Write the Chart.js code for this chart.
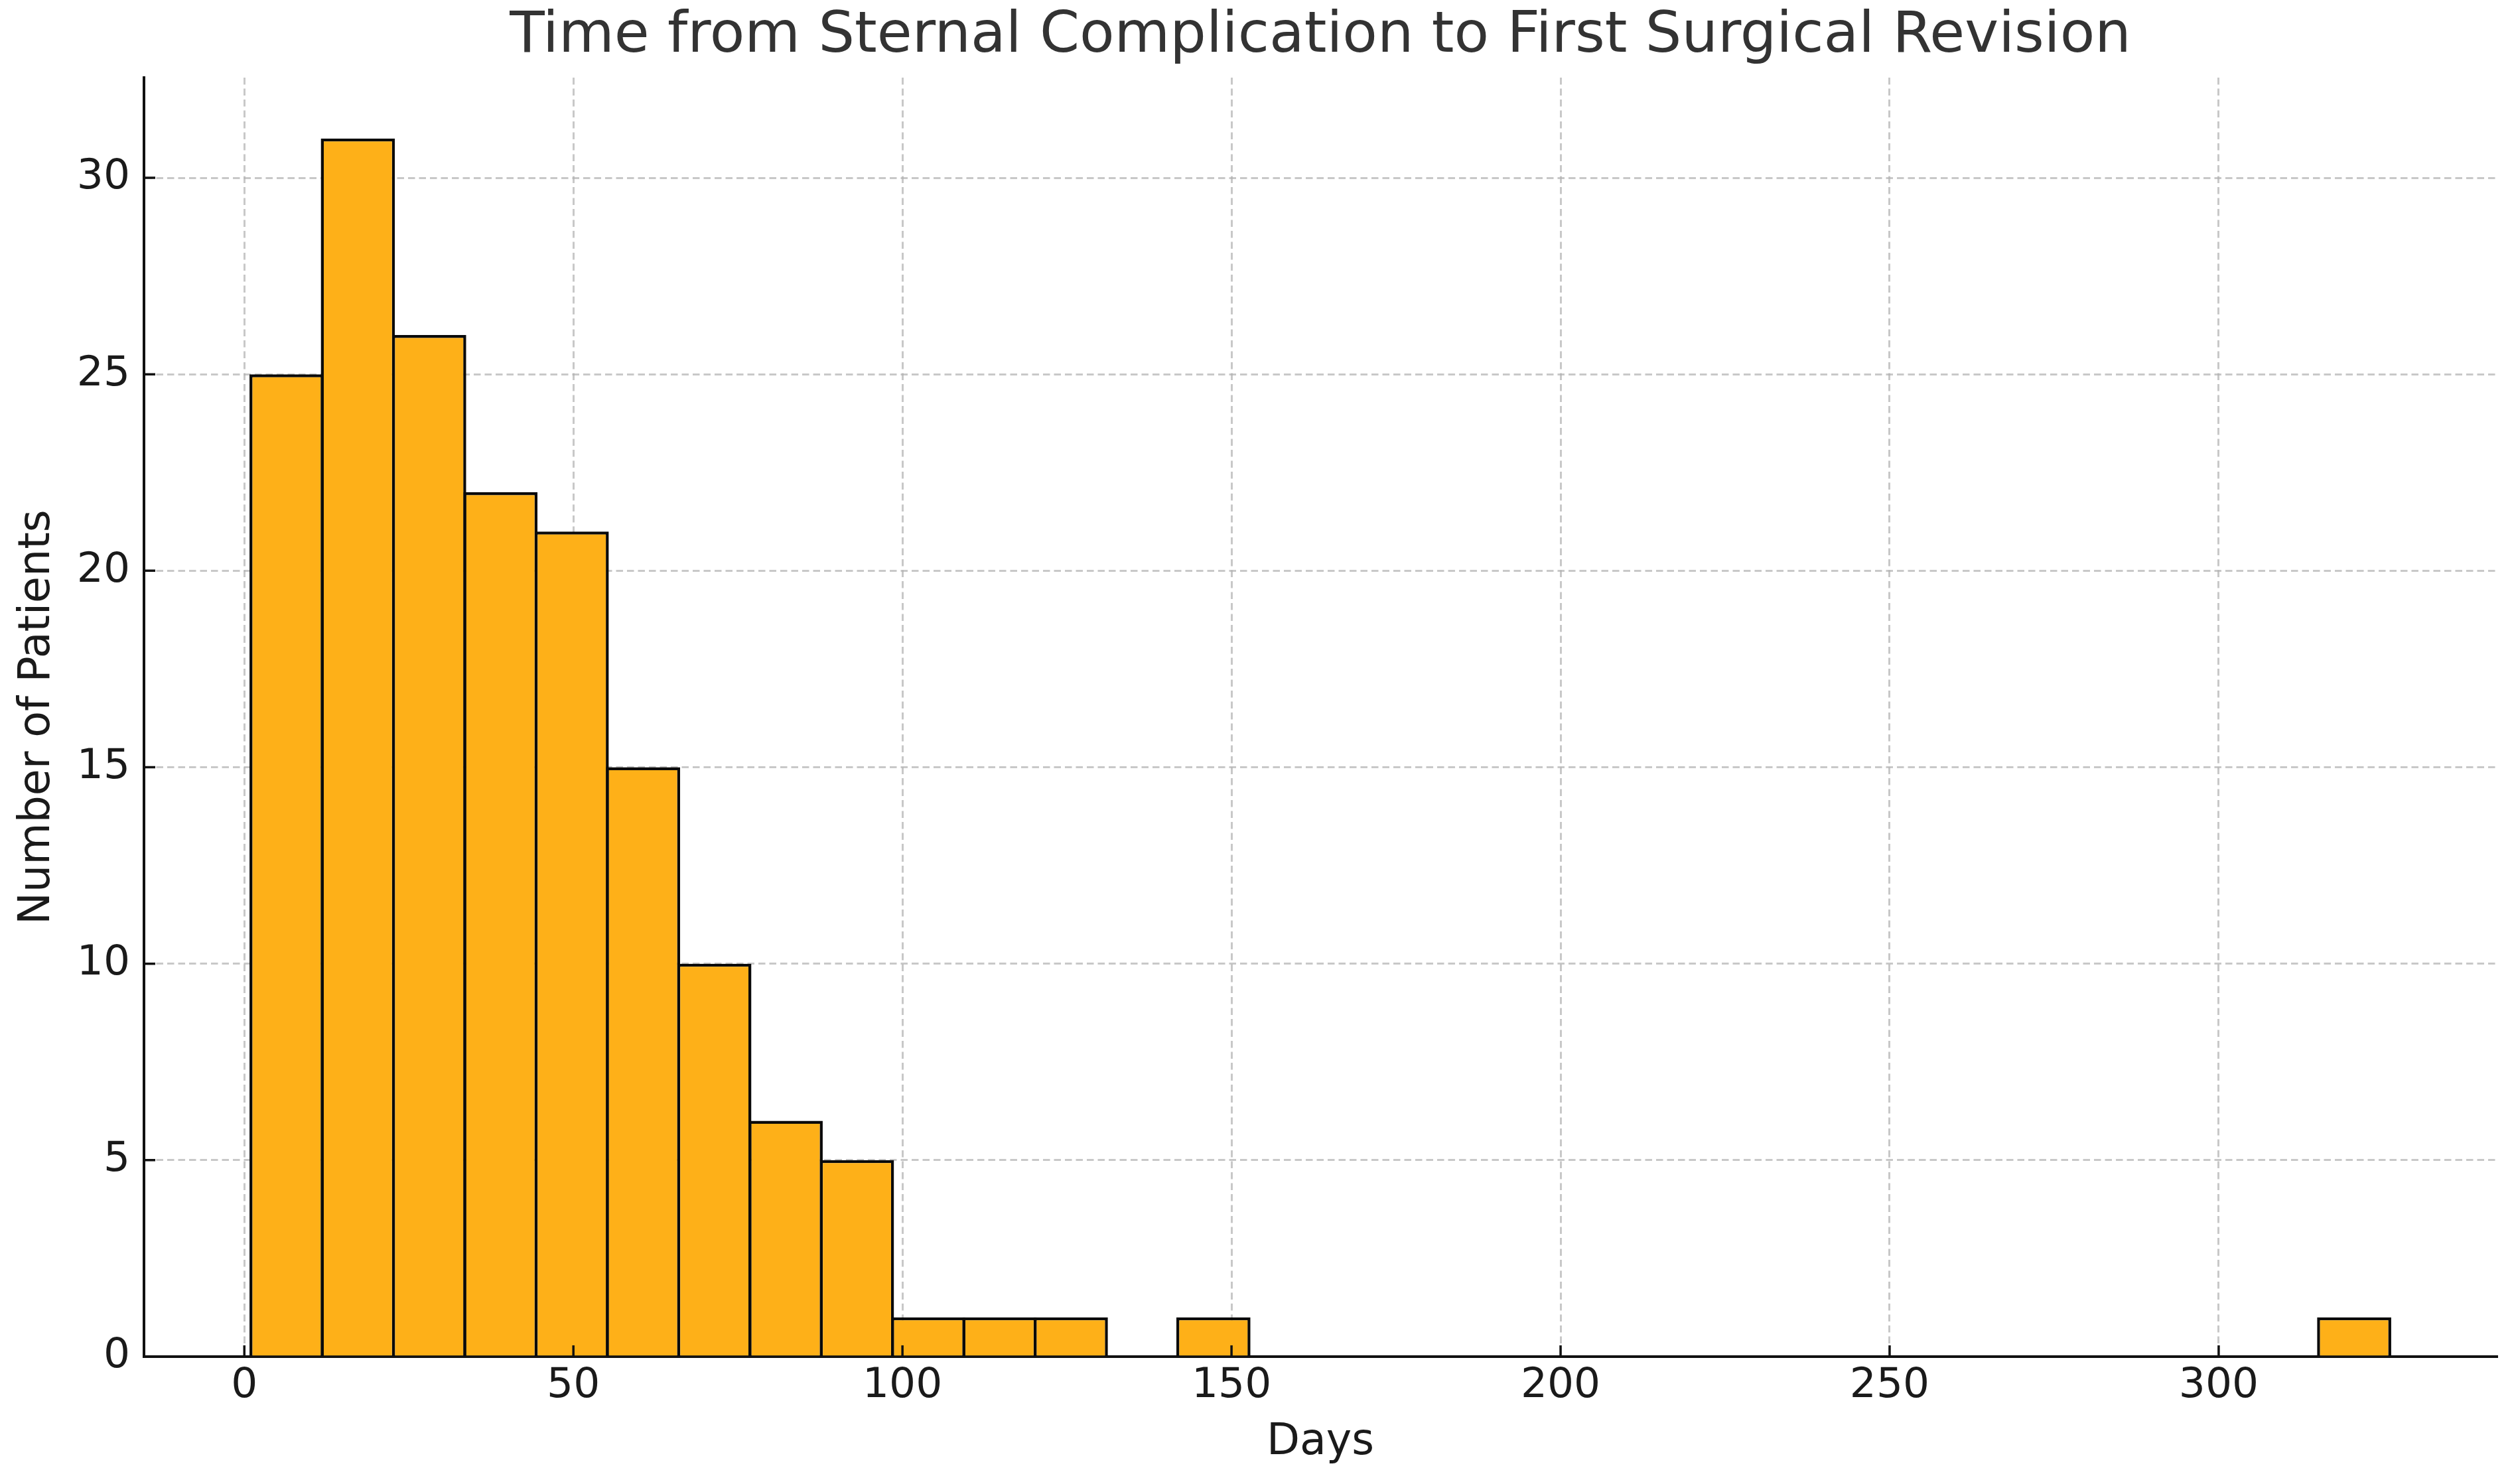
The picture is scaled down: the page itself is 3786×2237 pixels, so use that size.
<!DOCTYPE html>
<html>
<head>
<meta charset="utf-8">
<title>Time from Sternal Complication to First Surgical Revision</title>
<script src="https://cdn.jsdelivr.net/npm/chart.js@4.4.1/dist/chart.umd.min.js"></script>
<style>
  html, body { margin: 0; padding: 0; background: #fff; }
  #chart { display: block; }
</style>
</head>
<body>
<canvas id="chart" width="3786" height="2237"></canvas>
<script>
/* global Chart */

// histogram bin edges (days), 30 equal bins from 1 to 326
const binEdges = [
  1, 11.833, 22.667, 33.5, 44.333, 55.167, 66, 76.833, 87.667, 98.5,
  109.333, 120.167, 131, 141.833, 152.667, 163.5, 174.333, 185.167, 196, 206.833,
  217.667, 228.5, 239.333, 250.167, 261, 271.833, 282.667, 293.5, 304.333, 315.167,
  326,
];

// patients per bin
const counts = [
  25, 31, 26, 22, 21, 15, 10, 6, 5, 1,
  1, 1, 0, 1, 0, 0, 0, 0, 0, 0,
  0, 0, 0, 0, 0, 0, 0, 0, 0, 1,
];

const xTicks = [0, 50, 100, 150, 200, 250, 300];
const yTicks = [0, 5, 10, 15, 20, 25, 30];

const points = counts.map((c, i) => ({ x: (binEdges[i] + binEdges[i + 1]) / 2, y: c }));

const FONT = "'DejaVu Sans', 'Liberation Sans', sans-serif";

// matplotlib-style inward tick marks
const innerTicks = {
  id: "innerTicks",
  afterDraw(chart) {
    const { ctx, chartArea, scales } = chart;
    ctx.save();
    ctx.strokeStyle = "#111";
    ctx.lineWidth = 3.5;
    ctx.beginPath();
    xTicks.forEach((v) => {
      const px = scales.x.getPixelForValue(v);
      ctx.moveTo(px, chartArea.bottom);
      ctx.lineTo(px, chartArea.bottom - 17);
    });
    yTicks.forEach((v) => {
      const py = scales.y.getPixelForValue(v);
      ctx.moveTo(chartArea.left, py);
      ctx.lineTo(chartArea.left + 17, py);
    });
    ctx.stroke();
    ctx.restore();
  },
};

const ctx = document.getElementById("chart");
const chart = new Chart(ctx, {
  type: "bar",
  data: {
    datasets: [
      {
        label: "Patients",
        data: points,
        backgroundColor: "#FEB018",
        borderColor: "#0a0a0a",
        borderWidth: 4.5,
        borderSkipped: "start",
        barPercentage: 1.04,
        categoryPercentage: 1,
      },
    ],
  },
  plugins: [innerTicks],
  options: {
    responsive: false,
    devicePixelRatio: 1,
    animation: false,
    layout: { padding: { left: 0, right: 23, top: 0, bottom: 0 } },
    plugins: {
      legend: { display: false },
      tooltip: { enabled: false },
      title: {
        display: true,
        fullSize: false,
        text: "Time from Sternal Complication to First Surgical Revision",
        color: "#333",
        font: { family: FONT, size: 86, weight: "normal" },
        padding: { top: 4.5, bottom: 9.3 },
      },
    },
    scales: {
      x: {
        type: "linear",
        min: -15.25,
        max: 342.25,
        offset: false,
        z: 1,
        afterFit: (scale) => { scale.height = 192; },
        afterBuildTicks: (scale) => { scale.ticks = xTicks.map((v) => ({ value: v })); },
        ticks: {
          color: "#1a1a1a",
          font: { family: FONT, size: 63 },
          padding: 7,
          maxRotation: 0,
        },
        grid: { offset: false, color: "rgba(176,176,176,0.7)", lineWidth: 3, drawTicks: false },
        border: { display: true, color: "#111", width: 4, dash: [10.5, 6] },
        title: {
          display: true,
          text: "Days",
          color: "#1a1a1a",
          font: { family: FONT, size: 65 },
          padding: { top: 0, bottom: 22.5 },
        },
      },
      y: {
        min: 0,
        max: 32.55,
        z: 1,
        afterFit: (scale) => { scale.width = 217; },
        afterBuildTicks: (scale) => { scale.ticks = yTicks.map((v) => ({ value: v })); },
        ticks: {
          color: "#1a1a1a",
          font: { family: FONT, size: 63 },
          padding: 21,
        },
        grid: { color: "rgba(176,176,176,0.7)", lineWidth: 3, drawTicks: false },
        border: { display: true, color: "#111", width: 4, dash: [10.5, 6] },
        title: {
          display: true,
          text: "Number of Patients",
          color: "#1a1a1a",
          font: { family: FONT, size: 65 },
          padding: { top: 18.5, bottom: 0 },
        },
      },
    },
  },
});
</script>
</body>
</html>
